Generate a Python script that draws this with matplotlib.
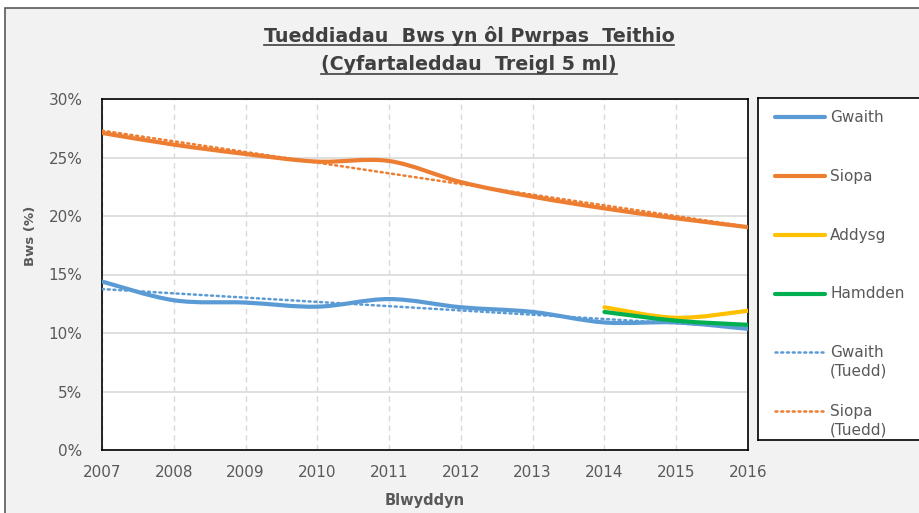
import numpy as np
import matplotlib
matplotlib.use("Agg")
import matplotlib.pyplot as plt
from matplotlib.path import Path
from matplotlib.patches import PathPatch, Rectangle
from matplotlib.lines import Line2D
from matplotlib.ticker import FuncFormatter

plt.rcParams['font.family'] = ['DejaVu Sans']

### Data ###
years = [2007, 2008, 2009, 2010, 2011, 2012, 2013, 2014, 2015, 2016]
gwaith = [14.4, 12.8, 12.6, 12.25, 12.9, 12.2, 11.8, 10.9, 10.9, 10.35]
siopa = [27.1, 26.1, 25.3, 24.65, 24.7, 22.9, 21.65, 20.65, 19.8, 19.05]
years_new = [2014, 2015, 2016]
addysg = [12.2, 11.3, 11.9]
hamdden = [11.8, 11.05, 10.7]

labels = ["Gwaith", "Siopa", "Addysg", "Hamdden", "Gwaith\n(Tuedd)", "Siopa\n(Tuedd)"]
colors = ["#5B9BD5", "#ED7D31", "#FFC000", "#00B050", "#5B9BD5", "#ED7D31"]
title_lines = ["Tueddiadau  Bws yn ôl Pwrpas  Teithio", "(Cyfartaleddau  Treigl 5 ml)"]

text_col = "#595959"
grid_col = "#D9D9D9"
W, H = 919, 513


def smooth_path(xs, ys):
    # Excel style smoothed line (bezier through the points)
    p = np.column_stack([xs, ys]).astype(float)
    n = len(p)
    verts = [p[0]]
    codes = [Path.MOVETO]
    for i in range(n - 1):
        p0 = p[i - 1] if i > 0 else p[i]
        p3 = p[i + 2] if i + 2 < n else p[i + 1]
        c1 = p[i] + (p[i + 1] - p0) / 6.0
        c2 = p[i + 1] - (p3 - p[i]) / 6.0
        verts += [c1, c2, p[i + 1]]
        codes += [Path.CURVE4] * 3
    return Path(verts, codes)


fig = plt.figure(figsize=(W / 100, H / 100), dpi=100, facecolor="white")

# chart area frame
fig.patches.append(Rectangle((5 / W, -0.05), 1.0, (H - 8) / H + 0.05,
                             transform=fig.transFigure, facecolor="#F2F2F2",
                             edgecolor="#595959", linewidth=1.2, zorder=-10))

ax = fig.add_axes([102 / W, 1 - 450 / H, (748 - 102) / W, (450 - 99) / H])
ax.set_facecolor("white")

ax.set_xlim(2007, 2016)
ax.set_ylim(0, 30)
ax.set_xticks(years)
ax.set_yticks(np.arange(0, 31, 5))
ax.yaxis.set_major_formatter(FuncFormatter(lambda v, pos: f"{v:.0f}%"))
ax.grid(axis="y", color=grid_col, linewidth=1.2)
ax.grid(axis="x", color=grid_col, linewidth=1, linestyle=(0, (4, 3)))
ax.set_axisbelow(True)
for s in ax.spines.values():
    s.set_color("black")
    s.set_linewidth(1.2)
ax.tick_params(length=0, colors=text_col, labelsize=11)
ax.tick_params(axis="x", pad=11)
ax.tick_params(axis="y", pad=14)

# trend lines (linear fit, as the Excel trendline)
trend_years = np.array([years[0], years[-1]])
for vals, c in [(gwaith, colors[4]), (siopa, colors[5])]:
    k, b = np.polyfit(years, vals, 1)
    ax.plot(trend_years, k * trend_years + b, color=c, linewidth=1.8,
            linestyle=(0, (0.8, 1.5)), dash_capstyle="round", zorder=3)

# smoothed series
for xs, vals, c in [(years, gwaith, colors[0]), (years, siopa, colors[1]),
                    (years_new, addysg, colors[2]), (years_new, hamdden, colors[3])]:
    ax.add_patch(PathPatch(smooth_path(xs, vals), facecolor="none", edgecolor=c,
                           linewidth=3, capstyle="round", joinstyle="round",
                           zorder=4, clip_on=True))

ax.set_xlabel("Blwyddyn", fontsize=10.5, fontweight="bold", color=text_col, labelpad=9)
ax.set_ylabel("Bws (%)", fontsize=9.5, fontweight="bold", color=text_col)
ax.yaxis.set_label_coords((37 - 102) / 646, (450 - 236) / 351)

### Legend box ###
lax = fig.add_axes([758 / W, 1 - 440 / H, 200 / W, (440 - 98) / H])
lax.set_xlim(0, 200)
lax.set_ylim(440, 98)
lax.set_xticks([])
lax.set_yticks([])
for s in lax.spines.values():
    s.set_color("black")
    s.set_linewidth(1.2)
row_y = [116.7, 176.2, 235, 293.5, 351.7, 411]
for i, (lab, c) in enumerate(zip(labels, colors)):
    if i < 4:
        lax.add_line(Line2D([17, 67], [row_y[i]] * 2, color=c, linewidth=3,
                            solid_capstyle="round"))
    else:
        lax.add_line(Line2D([17, 67], [row_y[i]] * 2, color=c, linewidth=1.8,
                            linestyle=(0, (0.8, 1.5)), dash_capstyle="round"))
    lax.text(72, row_y[i] - 7, lab, fontsize=11, color=text_col, va="top",
             ha="left", linespacing=1.3)

### Title ###
t1 = fig.text(469 / W, 1 - 36 / H, title_lines[0], ha="center", va="center",
              fontsize=13.7, fontweight="bold", color="#404040")
t2 = fig.text(469 / W, 1 - 65 / H, title_lines[1], ha="center", va="center",
              fontsize=13.7, fontweight="bold", color="#404040")
fig.canvas.draw()
r = fig.canvas.get_renderer()
for t in (t1, t2):
    bb = t.get_window_extent(r)
    yline = bb.y0 + 1
    fig.add_artist(Line2D([bb.x0 / W, bb.x1 / W], [yline / H, yline / H],
                          transform=fig.transFigure, color="#404040", linewidth=1.2))

fig.savefig("out.png", dpi=100, facecolor=fig.get_facecolor())
